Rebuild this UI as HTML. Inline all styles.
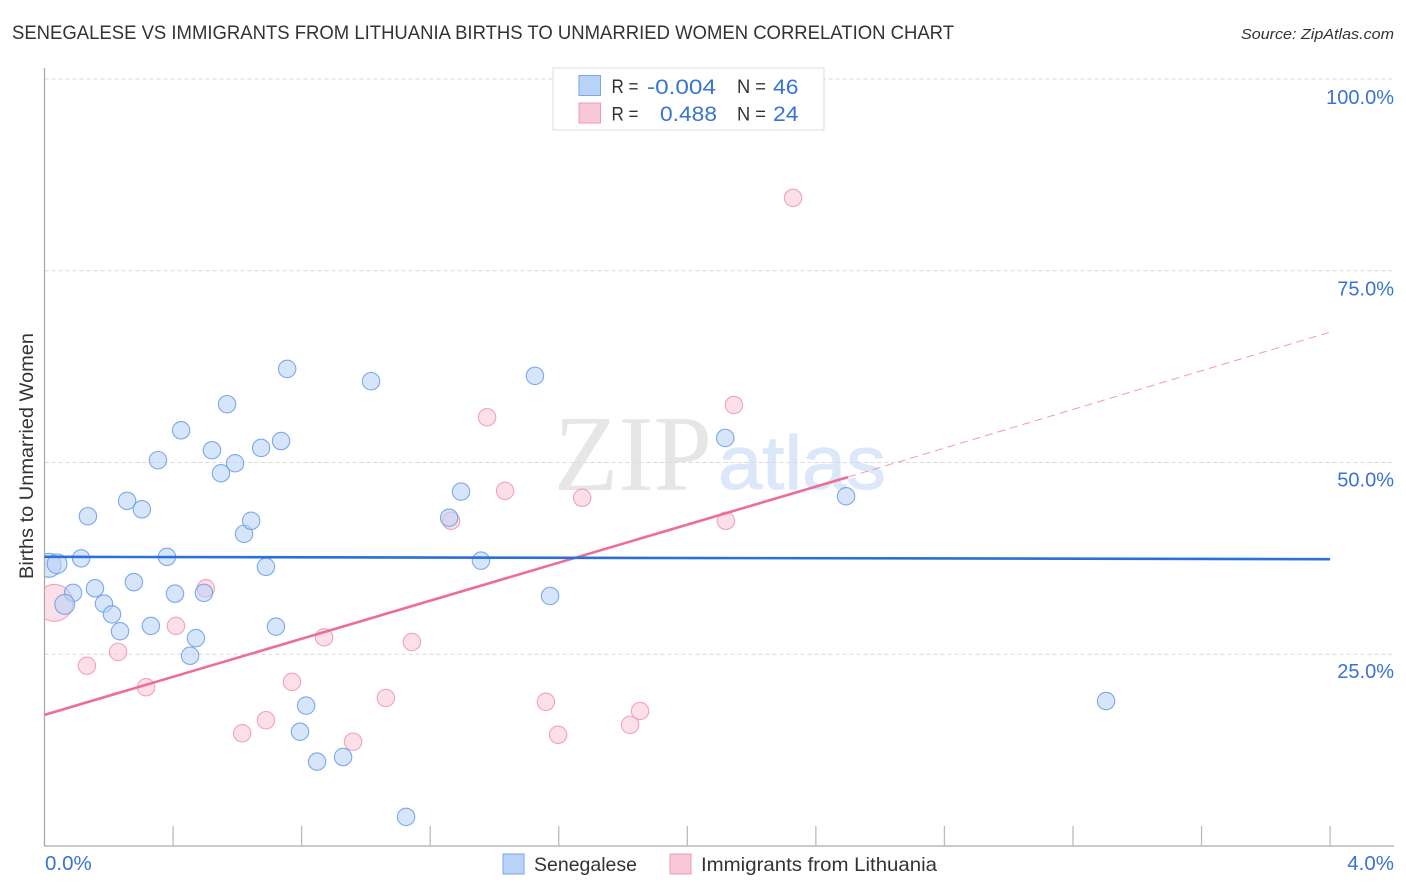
<!DOCTYPE html>
<html lang="en">
<head>
<meta charset="utf-8">
<title>Senegalese vs Immigrants from Lithuania Births to Unmarried Women Correlation Chart</title>
<style>
html,body{margin:0;padding:0;background:#fff;}
body{width:1406px;height:892px;overflow:hidden;font-family:"Liberation Sans",sans-serif;}
svg{display:block;}
text{font-family:"Liberation Sans",sans-serif;}
</style>
</head>
<body>
<svg id="chart" xmlns="http://www.w3.org/2000/svg" width="1406" height="892" viewBox="0 0 1406 892">
  <defs>
    <clipPath id="plot-clip"><rect x="45" y="60" width="1349" height="786"/></clipPath>
  </defs>
  <text x="12" y="39" font-size="19.5" fill="#333" textLength="942" lengthAdjust="spacingAndGlyphs">SENEGALESE VS IMMIGRANTS FROM LITHUANIA BIRTHS TO UNMARRIED WOMEN CORRELATION CHART</text>
  <text x="1241" y="39" font-size="15" font-style="italic" fill="#333" textLength="153" lengthAdjust="spacingAndGlyphs">Source: ZipAtlas.com</text>

  <g>
    <text x="554" y="490" font-size="108" fill="#e6e6e6" textLength="158" lengthAdjust="spacingAndGlyphs" style="font-family:'Liberation Serif',serif">ZIP</text>
    <text x="718" y="489" font-size="76" fill="#dce8f9" stroke="#dce8f9" stroke-width="1" textLength="168" lengthAdjust="spacingAndGlyphs">atlas</text>
  </g>

  <g id="grid"></g>
  <g id="axes"></g>
  <g id="ylabels"></g>
  <g id="xlabels"></g>
  <g id="points" clip-path="url(#plot-clip)"></g>
  <g id="trends"></g>

  <text transform="translate(33,579) rotate(-90)" font-size="19" fill="#333" textLength="246" lengthAdjust="spacingAndGlyphs">Births to Unmarried Women</text>

  <g>
    <rect x="553" y="68" width="271" height="62" fill="#fff" stroke="#dcdcdc" stroke-width="1"/>
    <rect x="579" y="75.5" width="21.5" height="20" fill="#b8d3f6" stroke="#7aa7e6" stroke-width="1"/>
    <rect x="579" y="103" width="21.5" height="20" fill="#f9c8d8" stroke="#ee9ab6" stroke-width="1"/>
    <text x="611.5" y="93" font-size="19" fill="#333" textLength="27" lengthAdjust="spacingAndGlyphs">R =</text>
    <text x="647" y="94" font-size="21" fill="#3a73d2" textLength="69" lengthAdjust="spacingAndGlyphs">-0.004</text>
    <text x="737" y="93" font-size="19" fill="#333" textLength="29" lengthAdjust="spacingAndGlyphs">N =</text>
    <text x="773" y="94" font-size="21" fill="#3a73d2" textLength="25.5" lengthAdjust="spacingAndGlyphs">46</text>
    <text x="611.5" y="120.5" font-size="19" fill="#333" textLength="27" lengthAdjust="spacingAndGlyphs">R =</text>
    <text x="660" y="121" font-size="21" fill="#3a73d2" textLength="57" lengthAdjust="spacingAndGlyphs">0.488</text>
    <text x="737" y="120.5" font-size="19" fill="#333" textLength="29" lengthAdjust="spacingAndGlyphs">N =</text>
    <text x="773" y="121" font-size="21" fill="#3a73d2" textLength="25.5" lengthAdjust="spacingAndGlyphs">24</text>
  </g>

  <g>
    <rect x="503" y="854" width="21" height="20" fill="#b8d3f6" stroke="#7aa7e6" stroke-width="1"/>
    <text x="534" y="871" font-size="19.5" fill="#333" textLength="103" lengthAdjust="spacingAndGlyphs">Senegalese</text>
    <rect x="670" y="854" width="21" height="20" fill="#f9c8d8" stroke="#ee9ab6" stroke-width="1"/>
    <text x="701" y="871" font-size="19.5" fill="#333" textLength="236" lengthAdjust="spacingAndGlyphs">Immigrants from Lithuania</text>
  </g>
</svg>
<script>
// x = share of foreign-born (%), y = births to unmarried women (%)
var senegaleseX = [0.014,0.039,0.089,0.114,0.063,0.135,0.157,0.185,0.210,0.235,0.257,0.278,0.303,0.331,0.353,0.381,0.406,0.425,0.453,0.471,0.496,0.521,0.549,0.568,0.593,0.621,0.643,0.674,0.689,0.720,0.736,0.755,0.795,0.814,0.848,0.929,1.016,1.125,1.259,1.296,1.358,1.526,1.573,2.118,2.494,3.303];
var senegaleseY = [36.6,36.8,33.0,37.5,31.5,43.0,33.6,31.6,30.2,28.0,45.0,34.4,43.9,28.7,50.3,37.7,32.9,54.2,24.8,27.1,33.0,51.6,48.6,57.6,49.9,40.7,42.4,51.9,36.4,28.6,52.8,62.2,14.9,18.3,11.0,11.6,60.6,3.8,42.8,46.2,37.2,61.3,32.6,53.2,45.6,18.9];
var senegaleseWeight = [1.9,1.3,1,1,1.3,1,1,1,1,1,1,1,1,1,1,1,1,1,1,1,1,1,1,1,1,1,1,1,1,1,1,1,1,1,1,1,1,1,1,1,1,1,1,1,1,1];
var lithuaniaX = [0.031,0.132,0.229,0.316,0.409,0.502,0.615,0.689,0.770,0.870,0.960,1.062,1.143,1.265,1.377,1.433,1.560,1.598,1.673,1.822,1.853,2.120,2.145,2.329];
var lithuaniaY = [31.7,23.5,25.3,20.7,28.7,33.6,14.7,16.4,21.4,27.2,13.6,19.3,26.6,42.4,55.9,46.3,18.8,14.5,45.4,15.8,17.6,42.4,57.5,84.5];
var lithuaniaWeight = [4.5,1,1,1,1,1,1,1,1,1,1,1,1,1,1,1,1,1,1,1,1,1,1,1];
var senegaleseTrendX = [0, 4];
var senegaleseTrendY = [37.7, 37.4];
var lithuaniaTrendX = [0, 2.5];
var lithuaniaTrendY = [17.1, 48.1];
var lithuaniaDashX = [2.5, 4];
var lithuaniaDashY = [48.1, 67.0];
var yTicks = [25, 50, 75, 100];
var yTickLabels = ["25.0%", "50.0%", "75.0%", "100.0%"];
var xTicks = [0.4, 0.8, 1.2, 1.6, 2.0, 2.4, 2.8, 3.2, 3.6, 4.0];
var xEndValues = [0, 4];
var xEndLabels = ["0.0%", "4.0%"];

var NS = "http://www.w3.org/2000/svg";
function xScale(v) { return 44.5 + v * 321.4; }
function yScale(v) { return 846 - v * 7.67; }
function yLabelScale(v) { return 104 + (100 - v) * 7.65; }
function mk(parent, tag, attrs) {
  var el = document.createElementNS(NS, tag);
  for (var k in attrs) el.setAttribute(k, attrs[k]);
  parent.appendChild(el);
  return el;
}

var gridG = document.getElementById("grid");
var axesG = document.getElementById("axes");
var yLabG = document.getElementById("ylabels");
var xLabG = document.getElementById("xlabels");
var ptsG = document.getElementById("points");
var trendG = document.getElementById("trends");

yTicks.forEach(function (t, i) {
  var line = mk(gridG, "line", {x1: 44.5, x2: 1394, y1: yScale(t), y2: yScale(t), stroke: "#d9d9d9", "stroke-width": 1, "stroke-dasharray": "4 3"});
  
  
  var lab = mk(yLabG, "text", {x: 1394, y: yLabelScale(t), "text-anchor": "end", "font-size": 20, fill: "#3a73d2"});
  
  
  lab.textContent = yTickLabels[i];
});

var yAxis = mk(axesG, "line", {x1: 44.5, x2: 44.5, y1: 68, y2: 846, stroke: "#aaa", "stroke-width": 1.3});


var xAxis = mk(axesG, "line", {x1: 44, x2: 1394, y1: 846, y2: 846, stroke: "#aaa", "stroke-width": 1.3});



xTicks.forEach(function (t) {
  var tick = mk(axesG, "line", {x1: xScale(t), x2: xScale(t), y1: 826, y2: 846, stroke: "#bbb", "stroke-width": 1.3});
  
  
});

xEndValues.forEach(function (t, i) {
  var lab = mk(xLabG, "text", {x: i === 0 ? 45 : 1394, y: 870, "text-anchor": i === 0 ? "start" : "end", "font-size": 20.5, fill: "#3a73d2"});
  
  
  lab.textContent = xEndLabels[i];
});

function drawPoints(xs, ys, weights, fill, stroke, name) {
  xs.forEach(function (x, i) {
    var c = mk(ptsG, "circle", {cx: xScale(x), cy: yScale(ys[i]), r: 8.7 * Math.sqrt(weights[i]), fill: fill, "fill-opacity": 0.58, stroke: stroke, "stroke-opacity": 0.8, "stroke-width": 1.1});
    
    
  });
}
drawPoints(lithuaniaX, lithuaniaY, lithuaniaWeight, "#f9c8d8", "#ee8fae", "point-lithuania");
drawPoints(senegaleseX, senegaleseY, senegaleseWeight, "#b8d3f6", "#5f97e3", "point-senegalese");

function drawTrend(xs, ys, attrs, name) {
  var l = mk(trendG, "line", Object.assign({x1: xScale(xs[0]), y1: yScale(ys[0]), x2: xScale(xs[1]), y2: yScale(ys[1])}, attrs));
  
  
}
drawTrend(lithuaniaDashX, lithuaniaDashY, {stroke: "#ec6d9a", "stroke-width": 1, "stroke-dasharray": "8 5", "stroke-opacity": 0.7}, "trend-lithuania-extrapolated");
drawTrend(lithuaniaTrendX, lithuaniaTrendY, {stroke: "#ec6d9a", "stroke-width": 2.6}, "trend-lithuania");
drawTrend(senegaleseTrendX, senegaleseTrendY, {stroke: "#2a70d8", "stroke-width": 2.6}, "trend-senegalese");
</script>
</body>
</html>
